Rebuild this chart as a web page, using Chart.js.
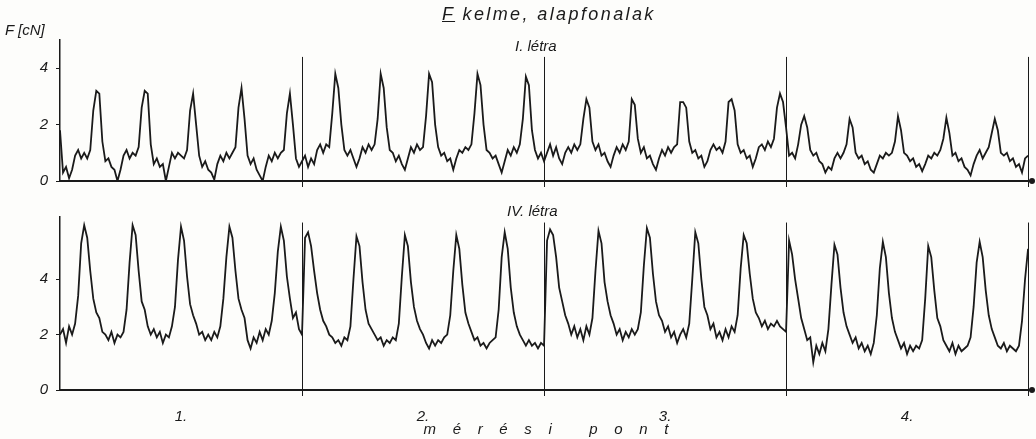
<!DOCTYPE html>
<html><head><meta charset="utf-8">
<script src="https://cdn.jsdelivr.net/npm/chart.js@4/dist/chart.umd.min.js"></script>
<style>
body{margin:0;background:#fdfdfb;width:1036px;height:439px;overflow:hidden;position:relative;font-family:"Liberation Sans",Arial,sans-serif;font-style:italic;color:#1a1a1a}
canvas{position:absolute;left:0}
#c1{top:0}
#c2{top:200px}
.t{position:absolute;white-space:nowrap}
</style></head><body>
<canvas id="c1" width="1036" height="200"></canvas>
<canvas id="c2" width="1036" height="239"></canvas>
<div class="t" style="left:442px;top:4px;font-size:18px;letter-spacing:2.4px"><span style="text-decoration:underline">F</span> kelme, alapfonalak</div>
<div class="t" style="left:515px;top:37px;font-size:15px">I. létra</div>
<div class="t" style="left:507px;top:202px;font-size:15px">IV. létra</div>
<div class="t" style="left:5px;top:21px;font-size:15px">F [cN]</div>
<script>
// ---- data (one sample every ~3 px) ----
const sectionLabels = ["1.", "2.", "3.", "4."];
const sectionCenters = [40, 120, 200, 280];
const sectionBounds = [80, 160, 240, 320];
const yTicks = [0, 2, 4];

// I. létra (top panel)
const top1 = [1.8,0.3,0.5,0.1,0.4,0.9,1.1,0.8,1.0,0.8,1.1,2.5,3.2,3.1,1.4,
  0.7,0.8,0.5,0.4,0.0,0.4,0.9,1.1,0.8,1.0,0.9,1.2,2.6,3.2,3.1,
  1.3,0.6,0.8,0.5,0.6,0.0,0.5,1.0,0.8,1.0,0.9,0.8,1.1,2.5,3.1,
  2.0,0.9,0.5,0.7,0.4,0.3,0.05,0.6,0.9,0.7,1.0,0.8,1.0,1.2,2.6,
  3.3,2.2,0.9,0.6,0.8,0.4,0.2,0.0,0.5,0.9,0.7,1.0,0.8,1.0,1.1,
  2.4,3.1,2.0,0.8,0.5,0.7];
const top2 = [0.9,0.5,0.8,0.6,1.1,1.3,1.0,1.3,1.2,2.4,
  3.8,3.3,2.0,1.1,0.9,1.1,0.8,0.5,0.8,1.2,
  1.0,1.3,1.1,1.3,2.2,3.8,3.3,1.9,1.1,1.0,
  0.7,0.9,0.6,0.4,0.8,1.2,1.0,1.3,1.1,1.2,
  2.3,3.8,3.5,2.0,1.2,0.9,1.0,0.7,0.8,0.4,
  0.8,1.1,1.0,1.2,1.1,1.3,2.4,3.8,3.4,2.0,
  1.1,1.0,0.8,0.9,0.6,0.3,0.7,1.1,0.9,1.2,
  1.0,1.3,2.2,3.7,3.4,1.8,1.1,0.8,1.0,0.7];
const top3 = [1.0,1.3,0.9,1.2,0.8,0.6,1.0,1.2,1.0,1.3,
  1.1,1.3,2.2,2.9,2.6,1.4,1.1,1.3,0.9,1.0,
  0.7,0.5,0.9,1.2,1.0,1.3,1.1,1.4,2.9,2.7,
  1.5,1.0,1.2,0.8,0.9,0.6,0.4,0.8,1.1,0.9,
  1.2,1.0,1.2,1.3,2.8,2.8,2.6,1.4,1.0,1.1,
  0.8,0.9,0.5,0.7,1.1,1.3,1.1,1.2,1.0,1.4,
  2.8,2.9,2.5,1.3,1.0,1.1,0.8,0.9,0.5,0.8,
  1.2,1.3,1.1,1.4,1.2,1.5,2.6,3.1,2.8,1.9];
const top4 = [0.9,1.0,0.8,1.3,2.0,2.3,1.9,1.1,0.9,1.0,
  0.7,0.6,0.3,0.5,0.4,0.8,1.0,0.8,1.0,1.3,
  2.2,1.9,1.0,0.8,0.9,0.6,0.7,0.4,0.3,0.6,
  0.9,0.8,1.0,0.9,1.0,1.4,2.3,1.8,1.0,0.9,
  0.7,0.8,0.5,0.6,0.35,0.6,0.9,0.8,1.0,0.9,
  1.1,1.5,2.25,1.7,0.9,1.0,0.7,0.8,0.5,0.4,
  0.2,0.6,0.9,1.1,0.8,1.0,1.2,1.7,2.2,1.8,
  1.0,0.9,1.0,0.7,0.8,0.5,0.6,0.3,0.8,0.9];

// IV. létra (bottom panel)
const bot1 = [2.0,2.2,1.7,2.3,2.0,2.4,3.4,5.3,5.95,5.5,
  4.3,3.3,2.8,2.6,2.1,2.0,1.8,2.1,1.7,2.0,
  1.9,2.1,2.9,4.6,5.95,5.6,4.3,3.2,2.9,2.3,
  2.0,2.2,1.9,2.1,1.7,2.0,1.9,2.3,3.0,4.7,
  5.9,5.4,4.1,3.1,2.7,2.4,2.0,2.1,1.8,2.0,
  1.8,2.1,1.9,2.3,3.3,4.8,5.9,5.5,4.3,3.3,
  2.9,2.6,1.8,1.5,1.9,1.7,2.1,1.8,2.2,2.0,
  2.5,3.5,5.0,5.9,5.4,4.1,3.3,2.6,2.8,2.2,
  2.0];
const bot2 = [5.5,5.7,5.2,4.3,3.5,2.9,2.5,2.3,2.0,1.9,
  1.7,1.8,1.6,1.9,1.8,2.3,4.0,5.55,5.2,3.9,
  2.9,2.4,2.2,2.0,1.8,1.9,1.6,1.8,1.7,1.9,
  1.8,2.4,4.1,5.6,5.2,3.9,3.0,2.5,2.2,2.0,
  1.7,1.5,1.8,1.6,1.8,1.7,1.9,2.0,2.7,4.3,
  5.6,5.1,3.8,2.8,2.4,2.1,1.8,1.9,1.6,1.7,
  1.5,1.7,1.8,1.9,2.9,4.8,5.7,5.1,3.7,2.8,
  2.3,2.0,1.8,1.6,1.8,1.6,1.7,1.5,1.7,1.6];
const bot3 = [5.4,5.8,5.6,4.8,3.7,3.2,2.7,2.4,2.0,2.3,
  1.9,2.2,1.8,2.3,2.0,2.6,4.3,5.75,5.3,3.9,
  3.2,2.7,2.4,2.0,2.2,1.8,2.1,1.9,2.2,2.0,
  2.2,2.8,4.5,5.85,5.5,4.2,3.2,2.7,2.5,2.1,
  2.3,1.9,2.1,1.7,2.0,2.2,1.9,2.4,4.0,5.7,
  5.3,4.0,3.0,2.7,2.2,2.4,1.9,2.1,1.8,2.2,
  1.9,2.3,2.1,2.7,4.4,5.6,5.3,4.2,3.3,2.8,
  2.6,2.3,2.5,2.2,2.4,2.3,2.5,2.3,2.2,2.1];
const bot4 = [5.4,4.9,4.0,3.3,2.6,2.2,1.8,1.9,1.0,1.6,
  1.3,1.7,1.4,2.2,3.8,5.25,4.9,3.7,2.8,2.3,
  2.0,1.7,1.9,1.5,1.7,1.4,1.6,1.3,1.7,2.7,
  4.4,5.35,4.8,3.5,2.6,2.1,1.8,1.5,1.7,1.3,
  1.6,1.4,1.6,1.5,1.8,3.3,5.2,4.8,3.6,2.6,
  2.3,1.8,1.6,1.4,1.7,1.3,1.6,1.4,1.5,1.6,
  1.9,3.0,4.6,5.35,4.8,3.6,2.7,2.2,1.9,1.6,
  1.5,1.7,1.4,1.6,1.5,1.4,1.6,2.5,4.0,5.1];

// ---- chart setup ----
const INK = '#1a1a1a';
const FONT = {family: '"Liberation Sans", Arial, sans-serif', style: 'italic', size: 15};

const sepPlugin = {
  id: 'sep',
  afterDatasetsDraw(chart, args, opts) {
    const {ctx, scales: {x, y}} = chart;
    ctx.save();
    ctx.strokeStyle = INK; ctx.lineWidth = 1;
    const y0 = y.getPixelForValue(0);
    for (const s of sectionBounds) {
      const px = Math.round(x.getPixelForValue(s)) + 0.5;
      ctx.beginPath();
      ctx.moveTo(px, y.getPixelForValue(opts.from));
      ctx.lineTo(px, y0 + opts.below);
      ctx.stroke();
    }
    ctx.fillStyle = INK;
    ctx.beginPath();
    ctx.arc(x.right, y0, 3, 0, Math.PI * 2);
    ctx.fill();
    ctx.restore();
  }
};

function makeChart(id, values, yMax, padTop, xHeight, showX, sepFrom) {
  const pts = values.map((v, i) => ({x: i, y: v}));
  return new Chart(document.getElementById(id), {
    type: 'line',
    data: {datasets: [{data: pts, borderColor: INK, borderWidth: 1.8, pointRadius: 0, tension: 0, fill: false}]},
    options: {
      responsive: false, animation: false, devicePixelRatio: 1,
      layout: {padding: {top: padTop, right: 4, left: 0, bottom: 0}},
      plugins: {legend: {display: false}, tooltip: {enabled: false}, sep: {from: sepFrom, below: 6}},
      scales: {
        x: {
          type: 'linear', min: 0, max: 321.3,
          grid: {display: false},
          border: {display: true, color: INK, width: 2},
          afterBuildTicks: s => { s.ticks = sectionCenters.map(v => ({value: v})); },
          ticks: {display: showX, color: INK, font: FONT, padding: 10, maxRotation: 0,
                  callback: (v, i) => sectionLabels[i]},
          title: {display: showX, text: 'm    é    r    é    s    i         p    o    n    t',
                  color: INK, font: FONT, padding: {top: 0, bottom: 0}},
          afterFit: s => { s.height = xHeight; }
        },
        y: {
          min: 0, max: yMax,
          afterBuildTicks: s => { s.ticks = yTicks.map(v => ({value: v})); },
          ticks: {color: INK, font: FONT, padding: 8},
          grid: {drawOnChartArea: false, tickLength: 4, color: INK},
          border: {color: INK, width: 1.5},
          afterFit: s => { s.width = 60; }
        }
      }
    },
    plugins: [sepPlugin]
  });
}

makeChart('c1', [...top1, ...top2, ...top3, ...top4], 5, 40, 19, false, 4.4);
makeChart('c2', [...bot1, ...bot2, ...bot3, ...bot4], 6.25, 13.7, 49, true, 6.05);
</script>
</body></html>
